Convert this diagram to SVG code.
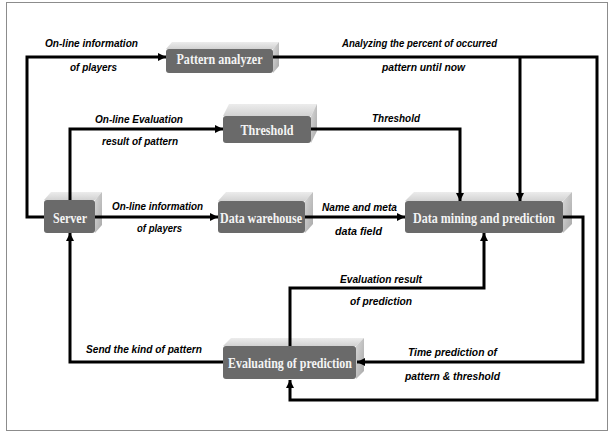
<svg xmlns="http://www.w3.org/2000/svg" width="608" height="432" viewBox="0 0 608 432">
  <style>
    .frame { fill: #ffffff; stroke: #8c8c8c; stroke-width: 1; }
    .front { fill: #6a6a6a; }
    .top { fill: url(#topGrad); }
    .side { fill: url(#sideGrad); }
    .name { font-family: "Liberation Serif", "Times New Roman", serif; font-weight: bold; font-size: 15px; fill: #f4f4f4; text-anchor: middle; }
    .wire { fill: none; stroke: #000000; stroke-width: 3; stroke-linejoin: miter; }
    .arrow { marker-end: url(#head); }
    .lbl { font-family: "Liberation Sans", Arial, sans-serif; font-weight: bold; font-style: italic; font-size: 11px; fill: #000000; text-anchor: middle; }
  </style>
  <defs>
    <linearGradient id="topGrad" x1="0" y1="0" x2="0" y2="1">
      <stop offset="0" stop-color="#ececec"/>
      <stop offset="1" stop-color="#d2d2d2"/>
    </linearGradient>
    <linearGradient id="sideGrad" x1="0" y1="0" x2="1" y2="1">
      <stop offset="0" stop-color="#d8d8d8"/>
      <stop offset="1" stop-color="#a8a8a8"/>
    </linearGradient>
    <marker id="head" markerUnits="userSpaceOnUse" markerWidth="10" markerHeight="10" refX="8" refY="4" orient="auto">
      <path d="M0,0 L8,4 L0,8 z" fill="#000000"/>
    </marker>
  </defs>

  <rect class="frame" x="6.5" y="2.5" width="601" height="428"/>

  <!-- nodes: each a 3D block (top face, side face, front face) -->
  <g id="pattern-analyzer">
    <polygon class="top" points="166,49 172,42 279,42 273,49"/>
    <polygon class="side" points="273,49 279,42 279,66 273,73"/>
    <rect class="front" x="166" y="49" width="107" height="24" rx="3"/>
    <text class="name" x="219.5" y="64" textLength="86" lengthAdjust="spacingAndGlyphs">Pattern analyzer</text>
  </g>

  <g id="threshold">
    <polygon class="top" points="223,116 229,104 317,104 311,116"/>
    <polygon class="side" points="311,116 317,104 317,131 311,143"/>
    <rect class="front" x="223" y="116" width="88" height="27" rx="3"/>
    <text class="name" x="267" y="134.5" textLength="53" lengthAdjust="spacingAndGlyphs">Threshold</text>
  </g>

  <g id="server">
    <polygon class="top" points="44,200 51,192 102,192 95,200"/>
    <polygon class="side" points="95,200 102,192 102,225 95,233"/>
    <rect class="front" x="44" y="200" width="51" height="33" rx="3"/>
    <text class="name" x="70" y="223" textLength="34" lengthAdjust="spacingAndGlyphs">Server</text>
  </g>

  <g id="data-warehouse">
    <polygon class="top" points="218,201 226,192 313,192 305,201"/>
    <polygon class="side" points="305,201 313,192 313,224 305,233"/>
    <rect class="front" x="218" y="201" width="87" height="32" rx="3"/>
    <text class="name" x="261" y="223" textLength="82" lengthAdjust="spacingAndGlyphs">Data warehouse</text>
  </g>

  <g id="data-mining">
    <polygon class="top" points="405,201 414,192 572,192 563,201"/>
    <polygon class="side" points="563,201 572,192 572,224 563,233"/>
    <rect class="front" x="405" y="201" width="158" height="32" rx="3"/>
    <text class="name" x="484" y="223" textLength="142" lengthAdjust="spacingAndGlyphs">Data mining and prediction</text>
  </g>

  <g id="evaluating">
    <polygon class="top" points="223,346 231,338 364,338 356,346"/>
    <polygon class="side" points="356,346 364,338 364,371 356,379"/>
    <rect class="front" x="223" y="346" width="133" height="33" rx="3"/>
    <text class="name" x="290" y="368" textLength="124" lengthAdjust="spacingAndGlyphs">Evaluating of prediction</text>
  </g>

  <!-- connectors -->
  <g id="connectors">
    <path class="wire arrow" d="M44,217 H27 V57 H166"/>
    <path class="wire arrow" d="M273,57 H597 V400 H290 V380"/>
    <path class="wire arrow" d="M520,57 V201"/>
    <path class="wire arrow" d="M70,200 V129 H223"/>
    <path class="wire arrow" d="M311,129 H460 V201"/>
    <path class="wire arrow" d="M95,217 H218"/>
    <path class="wire arrow" d="M305,217 H405"/>
    <path class="wire arrow" d="M290,346 V288 H484 V233"/>
    <path class="wire arrow" d="M563,217 H583 V362 H357"/>
    <path class="wire arrow" d="M223,362 H70 V233"/>
  </g>

  <!-- connector labels -->
  <g id="labels">
    <text class="lbl" x="91.5" y="47" textLength="93" lengthAdjust="spacingAndGlyphs">On-line information</text>
    <text class="lbl" x="93.5" y="71" textLength="47" lengthAdjust="spacingAndGlyphs">of players</text>
    <text class="lbl" x="419.5" y="47" textLength="155" lengthAdjust="spacingAndGlyphs">Analyzing the percent of occurred</text>
    <text class="lbl" x="423.5" y="71" textLength="83" lengthAdjust="spacingAndGlyphs">pattern until now</text>
    <text class="lbl" x="139" y="123" textLength="88" lengthAdjust="spacingAndGlyphs">On-line Evaluation</text>
    <text class="lbl" x="140" y="145" textLength="76" lengthAdjust="spacingAndGlyphs">result of pattern</text>
    <text class="lbl" x="396" y="122" textLength="48" lengthAdjust="spacingAndGlyphs">Threshold</text>
    <text class="lbl" x="157.5" y="210" textLength="91" lengthAdjust="spacingAndGlyphs">On-line information</text>
    <text class="lbl" x="159.5" y="232" textLength="45" lengthAdjust="spacingAndGlyphs">of players</text>
    <text class="lbl" x="359.5" y="211" textLength="75" lengthAdjust="spacingAndGlyphs">Name and meta</text>
    <text class="lbl" x="358.5" y="235" textLength="47" lengthAdjust="spacingAndGlyphs">data field</text>
    <text class="lbl" x="381" y="283" textLength="82" lengthAdjust="spacingAndGlyphs">Evaluation result</text>
    <text class="lbl" x="381" y="305" textLength="62" lengthAdjust="spacingAndGlyphs">of prediction</text>
    <text class="lbl" x="452.5" y="356" textLength="89" lengthAdjust="spacingAndGlyphs">Time prediction of</text>
    <text class="lbl" x="452.5" y="380" textLength="95" lengthAdjust="spacingAndGlyphs">pattern &amp; threshold</text>
    <text class="lbl" x="144" y="353" textLength="116" lengthAdjust="spacingAndGlyphs">Send the kind of pattern</text>
  </g>
</svg>
